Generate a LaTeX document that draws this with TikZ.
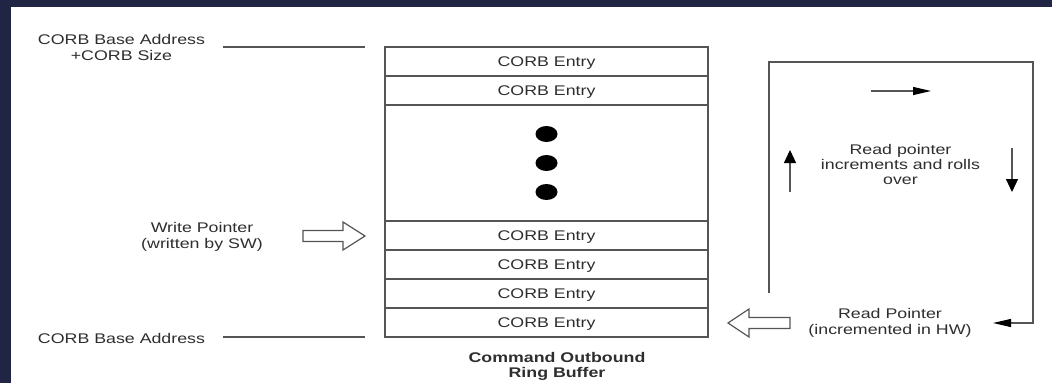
\documentclass[tikz,border=0pt]{standalone}
\usepackage{fontspec}
\setmainfont[FakeStretch=1.27]{Liberation Sans}
\usetikzlibrary{arrows.meta}

\definecolor{Frame}{HTML}{1F2542}
\definecolor{Ink}{HTML}{2E2E2E}
\definecolor{Rule}{HTML}{555555}

\begin{document}
\begin{tikzpicture}[x=1pt, y=-1pt,
  font=\fontsize{14}{16}\selectfont, text=Ink,
  entry/.style={draw=Rule, line width=1.3pt, minimum width=323pt, minimum height=29pt, inner sep=0pt, text height=10pt, text depth=0pt},
  lbl/.style={align=center, inner sep=0pt},
  rule/.style={draw=Rule, line width=1.2pt},
  hollow/.style={draw=Rule, line width=1.2pt, fill=white, line join=miter},
  harrow/.style={rule, -{Triangle[length=18pt, width=8pt, black]}},
  varrow/.style={rule, -{Triangle[length=13pt, width=12pt, black]}}]

  %%%%%%%%%% Background %%%%%%%%%%
  \useasboundingbox (0,0) rectangle (1052,383);
  \fill [Frame] (0,0) rectangle (1052,383);
  \fill [white] (11,7) rectangle (1052,383);

  %%%%%%%%%% Points pour travailler %%%%%%%%%%
  \coordinate (0) at (223,47);
  \coordinate (1) at (365,47);
  \coordinate (2) at (223,337);
  \coordinate (3) at (365,337);
  \coordinate (4) at (769,293);
  \coordinate (5) at (769,62);
  \coordinate (6) at (1033,62);
  \coordinate (7) at (1033,323);
  \coordinate (8) at (993,323);
  \coordinate (9) at (871,91);
  \coordinate (10) at (931,91);
  \coordinate (11) at (790,192);
  \coordinate (12) at (790,150);
  \coordinate (13) at (1012,148);
  \coordinate (14) at (1012,192);

  %%%%%%%%%% Ring buffer %%%%%%%%%%
  \foreach \y/\n in {61.5/e1, 90.5/e2, 235.5/e3, 264.5/e4, 293.5/e5, 322.5/e6}
  {
    \node [entry] (\n) at (546.5,\y) {CORB Entry};
  }
  \node [entry, minimum height=116pt] (gap) at (546.5,163) {};
  \foreach \y in {134,163,192}
  {
    \fill (546.5,\y) ellipse (11 and 8);
  }
  \node [lbl, font=\fontsize{14}{15.5}\selectfont\bfseries] (title) at (557,366.5) {Command Outbound\\Ring Buffer};

  %%%%%%%%%% Addresses %%%%%%%%%%
  \node [lbl] (top) at (121.5,47.5) {CORB Base Address\\+CORB Size};
  \node [lbl] (base) at (121.5,338) {CORB Base Address};
  \draw [rule] (0) -- (1);
  \draw [rule] (2) -- (3);

  %%%%%%%%%% Write pointer %%%%%%%%%%
  \node [lbl] (write) at (202,237) {Write Pointer\\(written by SW)};
  \draw [hollow] (303,230.5) -- (343,230.5) -- (343,222) -- (365,236)
    -- (343,250) -- (343,241.5) -- (303,241.5) -- cycle;

  %%%%%%%%%% Read pointer %%%%%%%%%%
  \node [lbl] (read) at (890,323) {Read Pointer\\(incremented in HW)};
  \draw [hollow] (790,317.5) -- (749,317.5) -- (749,309) -- (728,323)
    -- (749,337) -- (749,328.5) -- (790,328.5) -- cycle;

  %%%%%%%%%% Roll over loop %%%%%%%%%%
  \draw [harrow] (4) -- (5) -- (6) -- (7) -- (8);
  \node [lbl, font=\fontsize{14}{15}\selectfont] (roll) at (900.5,164) {Read pointer\\increments and rolls\\over};
  \draw [harrow] (9) -- (10);
  \draw [varrow] (11) -- (12);
  \draw [varrow] (13) -- (14);

\end{tikzpicture}
\end{document}
